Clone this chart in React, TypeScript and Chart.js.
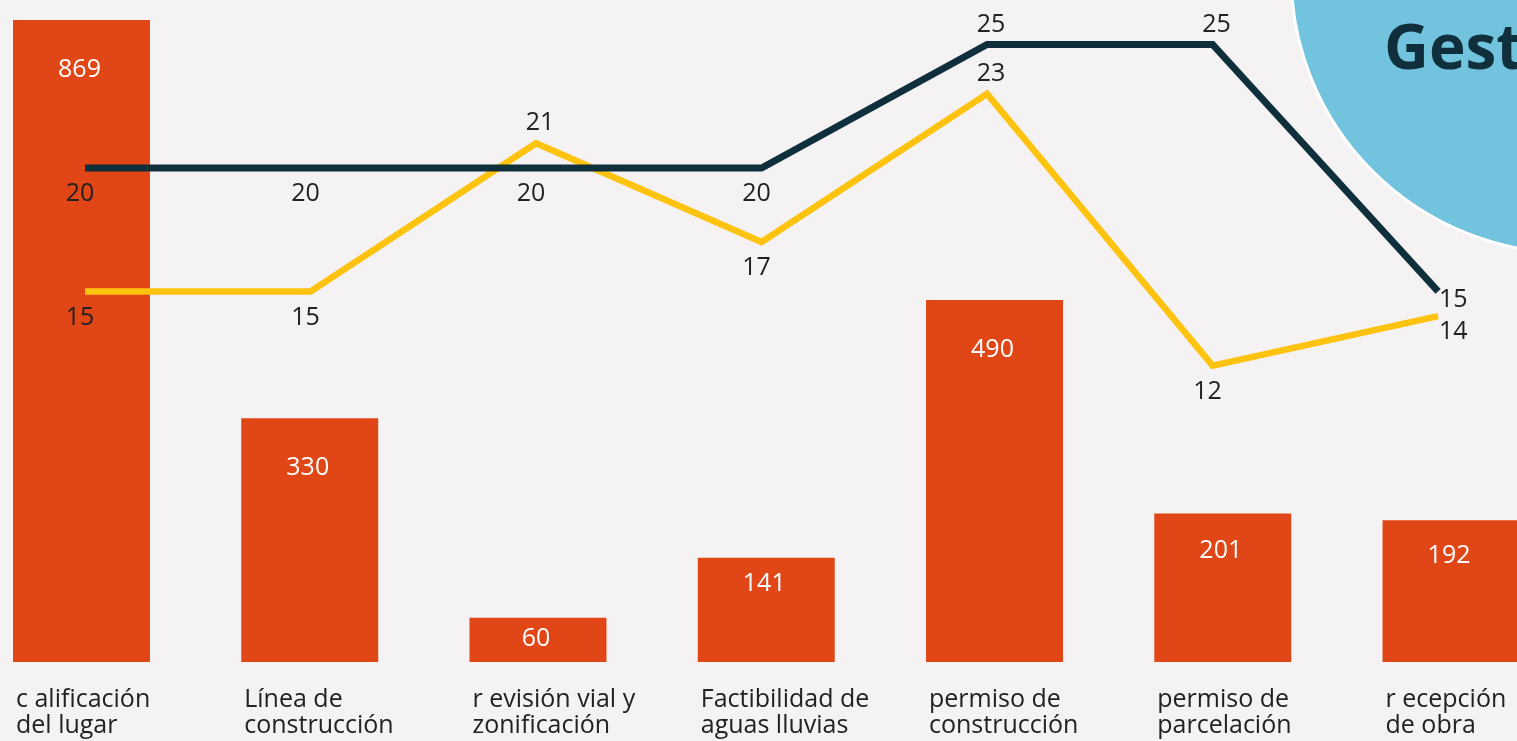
import React, { useEffect, useRef } from "react";
import { Chart, registerables } from "chart.js";

Chart.register(...registerables);

const categories: string[][] = [
  ["c alificación", "del lugar"],
  ["Línea de", "construcción"],
  ["r evisión vial y", "zonificación"],
  ["Factibilidad de", "aguas lluvias"],
  ["permiso de", "construcción"],
  ["permiso de", "parcelación"],
  ["r ecepción", "de obra"],
];

const barValues = [869, 330, 60, 141, 490, 201, 192];
const darkValues = [20, 20, 20, 20, 25, 25, 15];
const yellowValues = [15, 15, 21, 17, 23, 12, 14];

const badgeText = "Gest";

const BG = "#F4F2F3";
const BAR = "#E04616";
const DARK = "#0E2F3B";
const YELLOW = "#FDC30F";
const CIRCLE = "#71C3DE";
const TEXT = "#222222";
const FONT = "'Open Sans', 'Noto Sans', sans-serif";
const BAR_W = 137;

const labelPlugin = {
  id: "valueLabels",
  afterDatasetsDraw(chart: any) {
    const ctx = chart.ctx;
    ctx.save();
    ctx.font = `25px ${FONT}`;
    ctx.textBaseline = "middle";
    chart.data.datasets.forEach((ds: any, di: number) => {
      const meta = chart.getDatasetMeta(di);
      const vals = ds.data.map((d: any) => d.y);
      meta.data.forEach((el: any, i: number) => {
        const v = vals[i];
        if (ds.type === "bar") {
          const h = el.base - el.y;
          const off = Math.max(21, Math.min(50, h * 0.25));
          ctx.fillStyle = "#FFFFFF";
          ctx.textAlign = "center";
          ctx.fillText(String(v), el.x - 2, el.y + off);
        } else {
          ctx.fillStyle = TEXT;
          const last = i === vals.length - 1;
          if (last) {
            ctx.textAlign = "left";
            ctx.fillText(String(v), el.x + 1, el.y + (di === 0 ? 8 : 16));
            return;
          }
          const prev = i > 0 ? vals[i - 1] : -Infinity;
          const next = vals[i + 1];
          const peak =
            v >= prev && v >= next && (v > prev || v > next) && i > 0;
          ctx.textAlign = "center";
          if (peak) {
            ctx.fillText(String(v), el.x + 4, el.y - 20);
          } else {
            ctx.fillText(String(v), el.x - 5, el.y + 26);
          }
        }
      });
    });
    // category labels under the bars
    const xs = chart.scales.x;
    const bottom = chart.chartArea.bottom;
    ctx.fillStyle = TEXT;
    ctx.textAlign = "left";
    ctx.textBaseline = "alphabetic";
    ctx.font = `25px ${FONT}`;
    categories.forEach((lines, i) => {
      const left = xs.getPixelForValue(i) - BAR_W / 2 + 3;
      lines.forEach((line, j) => {
        ctx.fillText(line, left, bottom + 45 + j * 26);
      });
    });
    ctx.restore();
  },
  afterDraw(chart: any) {
    const ctx = chart.ctx;
    ctx.save();
    ctx.beginPath();
    ctx.arc(1570, -26, 279, 0, Math.PI * 2);
    ctx.fillStyle = CIRCLE;
    ctx.fill();
    ctx.lineWidth = 3;
    ctx.strokeStyle = "#FFFFFF";
    ctx.stroke();
    ctx.fillStyle = DARK;
    ctx.font = `bold 62px ${FONT}`;
    ctx.textAlign = "left";
    ctx.textBaseline = "alphabetic";
    ctx.fillText(badgeText, 1384, 69);
    ctx.restore();
  },
};

export default function App() {
  const ref = useRef<HTMLCanvasElement | null>(null);

  useEffect(() => {
    if (!ref.current) return;
    const chart = new Chart(ref.current, {
      type: "bar",
      data: {
        datasets: [
          {
            type: "line",
            label: "dark",
            data: darkValues.map((y, i) => ({ x: i, y })),
            borderColor: DARK,
            borderWidth: 7,
            pointRadius: 0,
            borderJoinStyle: "miter",
            borderCapStyle: "butt",
            tension: 0,
            xAxisID: "x2",
            yAxisID: "y2",
            order: 1,
          } as any,
          {
            type: "line",
            label: "yellow",
            data: yellowValues.map((y, i) => ({ x: i, y })),
            borderColor: YELLOW,
            borderWidth: 6.5,
            pointRadius: 0,
            borderJoinStyle: "miter",
            borderCapStyle: "butt",
            tension: 0,
            xAxisID: "x2",
            yAxisID: "y2",
            order: 2,
          } as any,
          {
            type: "bar",
            label: "bars",
            data: barValues.map((y, i) => ({ x: i, y })),
            backgroundColor: BAR,
            borderWidth: 0,
            grouped: false,
            barPercentage: 0.6,
            categoryPercentage: 1,
            maxBarThickness: BAR_W,
            xAxisID: "x",
            yAxisID: "y",
            order: 3,
          } as any,
        ],
      },
      options: {
        animation: false,
        responsive: false,
        maintainAspectRatio: false,
        layout: { padding: { left: 0, right: 0, top: 0, bottom: 79 } },
        plugins: {
          legend: { display: false },
          tooltip: { enabled: false },
        },
        scales: {
          x: {
            type: "linear",
            min: -0.357,
            max: 6.289,
            bounds: "data",
            offset: false,
            display: false,
            afterBuildTicks: (scale: any) => {
              scale.ticks = categories.map((_, i) => ({ value: i }));
            },
          },
          x2: {
            type: "linear",
            min: -0.377,
            max: 6.35,
            bounds: "data",
            offset: false,
            display: false,
          },
          y: {
            type: "linear",
            min: 0,
            max: 896,
            display: false,
          },
          y2: {
            type: "linear",
            min: 0,
            max: 26.8,
            display: false,
          },
        },
      },
      plugins: [labelPlugin],
    } as any);
    return () => chart.destroy();
  }, []);

  return (
    <div
      style={{
        position: "fixed",
        left: 0,
        top: 0,
        width: 1517,
        height: 741,
        background: BG,
        overflow: "hidden",
      }}
    >
      <canvas ref={ref} width={1517} height={741} style={{ display: "block" }} />
    </div>
  );
}
